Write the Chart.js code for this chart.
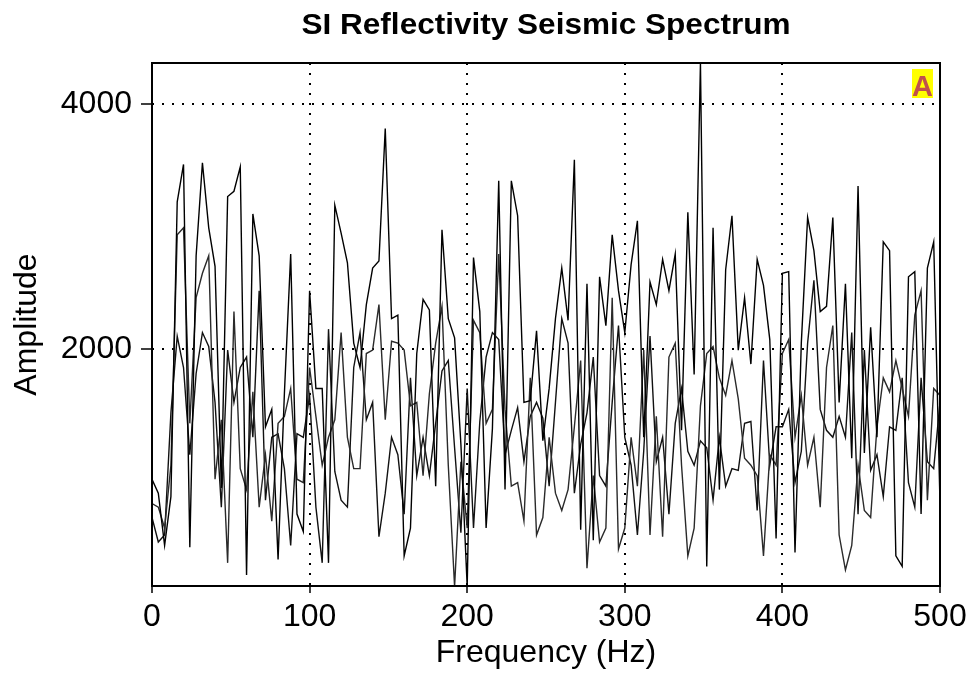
<!DOCTYPE html>
<html>
<head>
<meta charset="utf-8">
<title>SI Reflectivity Seismic Spectrum</title>
<script src="https://cdn.jsdelivr.net/npm/chart.js@4"></script>
<style>
  html, body { margin: 0; padding: 0; background: #fff; }
  #chart { display: block; }
</style>
</head>
<body>
<canvas id="chart" width="975" height="675"></canvas>
<script>
// sample frequencies (Hz)
const freqHz = [
  0, 4, 8, 12, 16, 20, 24, 28, 32, 36, 40, 44, 48, 52, 56, 60, 64, 68, 72, 76,
  80, 84, 88, 92, 96, 100, 104, 108, 112, 116, 120, 124, 128, 132, 136, 140, 144, 148, 152, 156,
  160, 164, 168, 172, 176, 180, 184, 188, 192, 196, 200, 204, 208, 212, 216, 220, 224, 228, 232, 236,
  240, 244, 248, 252, 256, 260, 264, 268, 272, 276, 280, 284, 288, 292, 296, 300, 304, 308, 312, 316,
  320, 324, 328, 332, 336, 340, 344, 348, 352, 356, 360, 364, 368, 372, 376, 380, 384, 388, 392, 396,
  400, 404, 408, 412, 416, 420, 424, 428, 432, 436, 440, 444, 448, 452, 456, 460, 464, 468, 472, 476,
  480, 484, 488, 492, 496, 500
];

// amplitude of each trace
const trace1 = [
  937, 823, 396, 795, 3202, 3507, 382, 2761, 3521, 2989, 2675, 866, 3245, 3288, 3487, 154, 3103, 2761, 1365, 1507,
  282, 1635, 2775, 652, 510, 2476, 1678, 1678, 254, 3174, 2946, 2704, 2048, 1849, 2362, 2661, 2718, 3800, 2248, 2276,
  311, 538, 1963, 2405, 2319, 880, 2974, 2248, 2091, 1222, 60, 2746, 2305, 538, 1350, 3373, 852, 3373, 3088, 1564,
  1578, 2148, 1251, 1678, 2248, 2661, 2234, 3544, 524, 2533, 438, 2590, 2191, 2932, 2476, 2134, 2689, 3046, 1279, 2547,
  2362, 2732, 2476, 2775, 1336, 3117, 1792, 4335, 225, 2989, 852, 2647, 3088, 1991, 2419, 1877, 2732, 2519, 2077, 453,
  2618, 2632, 339, 2048, 3074, 2803, 2305, 2348, 3074, 1564, 2533, 1108, 3330, 1151, 2177, 1279, 2875, 2803, 311, 225,
  2590, 2632, 652, 2661, 2875, 738
];
const trace2 = [
  738, 709, 538, 1051, 2932, 2989, 1393, 2419, 2618, 2761, 937, 1422, 254, 2305, 1023, 852, 1650, 709, 1137, 595,
  1393, 1450, 1678, 937, 909, 1849, 1450, 1051, 1279, 1422, 2134, 1279, 1023, 1023, 1963, 1991, 2362, 1422, 2063, 2048,
  1991, 1536, 1564, 966, 1635, 2048, 2348, 1051, 60, 1080, 538, 2234, 2134, 1393, 1507, 2775, 1507, 880, 909, 595,
  1764, 481, 624, 1279, 823, 681, 852, 1365, 1906, 211, 966, 424, 538, 2419, 367, 538, 1279, 880, 1991, 481,
  1450, 467, 1934, 2048, 1051, 311, 538, 1536, 1963, 2020, 1764, 1621, 1906, 1593, 1108, 1051, 966, 311, 1137, 1051,
  1963, 2077, 1279, 1621, 1051, 1279, 709, 1849, 2191, 481, 196, 396, 1051, 681, 624, 1365, 1764, 1650, 1906, 1678,
  1450, 2276, 2476, 766, 1678, 1621
];
const trace3 = [
  624, 424, 481, 1479, 2105, 1849, 1137, 1800, 2134, 2020, 1564, 709, 1991, 1564, 1849, 1934, 1279, 2476, 766, 1279,
  1308, 1023, 396, 1308, 1279, 1621, 709, 254, 2162, 1000, 766, 709, 1849, 2134, 1422, 1564, 467, 823, 1279, 1137,
  652, 1764, 966, 1279, 966, 1393, 1821, 1906, 1194, 500, 1678, 538, 1408, 1934, 2134, 2077, 1137, 1336, 1521, 1080,
  1450, 1564, 1436, 880, 1564, 2248, 2048, 823, 1222, 1479, 1934, 966, 880, 1564, 2191, 1279, 1051, 481, 1165, 2105,
  1080, 1279, 652, 1393, 1678, 1165, 1051, 1250, 1194, 766, 1279, 880, 1023, 1009, 1393, 1408, 681, 1906, 1051, 1365,
  1365, 1507, 909, 1165, 2048, 2561, 1507, 1336, 1279, 1450, 1279, 2134, 652, 1991, 1009, 1137, 795, 1365, 1336, 1764,
  909, 709, 1764, 1080, 1023, 1564
];

const xTicks = [0, 100, 200, 300, 400, 500];
const yTicks = [2000, 4000];

const chartTitle = "SI Reflectivity Seismic Spectrum";
const panelTag = "A";

function toPoints(values) {
  return values.map((v, i) => ({ x: freqHz[i], y: v }));
}

// title, plot frame and the little "A" tag
const decorations = {
  id: "decorations",
  afterDraw(chart) {
    const ctx = chart.ctx;
    const area = chart.chartArea;

    ctx.save();
    ctx.strokeStyle = "#000";
    ctx.lineWidth = 2;
    ctx.strokeRect(area.left, area.top, area.right - area.left, area.bottom - area.top);

    // title, stretched a bit to match the original width
    ctx.font = "bold 29px 'Liberation Sans', Arial, sans-serif";
    ctx.fillStyle = "#000";
    ctx.textAlign = "center";
    ctx.textBaseline = "alphabetic";
    const w = ctx.measureText(chartTitle).width;
    ctx.translate((area.left + area.right) / 2, 34);
    ctx.scale(489 / w, 1);
    ctx.fillText(chartTitle, 0, 0);
    ctx.restore();

    ctx.save();
    ctx.fillStyle = "#ffff00";
    ctx.fillRect(area.right - 28, area.top + 6, 21, 29);
    ctx.fillStyle = "#c0504d";
    ctx.font = "bold 29px 'Liberation Sans', Arial, sans-serif";
    ctx.textAlign = "center";
    ctx.textBaseline = "alphabetic";
    ctx.fillText(panelTag, area.right - 17.5, area.top + 33);
    ctx.restore();
  },
};

const tickFont = { family: "'Liberation Sans', Arial, sans-serif", size: 32 };

const ctx = document.getElementById("chart").getContext("2d");
new Chart(ctx, {
  type: "line",
  data: {
    datasets: [
      { data: toPoints(trace1), borderColor: "#000", borderWidth: 1.4 },
      { data: toPoints(trace2), borderColor: "#2a2a2a", borderWidth: 1.4 },
      { data: toPoints(trace3), borderColor: "#111", borderWidth: 1.4 },
    ],
  },
  options: {
    responsive: false,
    animation: false,
    layout: { padding: { top: 63, right: 35, left: 0, bottom: 0 } },
    elements: { point: { radius: 0 }, line: { tension: 0, fill: false } },
    plugins: { legend: { display: false }, tooltip: { enabled: false }, title: { display: false } },
    scales: {
      x: {
        type: "linear",
        min: 0,
        max: 500,
        afterFit: (scale) => { scale.height = 89; },
        afterBuildTicks: (scale) => { scale.ticks = xTicks.map((v) => ({ value: v })); },
        ticks: { font: tickFont, color: "#000", padding: 5, maxRotation: 0, callback: (v) => String(v) },
        grid: {
          color: (c) => (c.tick && (c.tick.value === 0 || c.tick.value === 500) ? "rgba(0,0,0,0)" : "#000"),
          lineWidth: 2,
          tickColor: "#000",
          tickWidth: 1.5,
          tickLength: 7,
        },
        border: { display: false, dash: [2, 8] },
        title: {
          display: true,
          text: "Frequency (Hz)",
          font: tickFont,
          color: "#000",
          padding: { top: 0, bottom: 3 },
        },
      },
      y: {
        type: "linear",
        min: 65,
        max: 4335,
        afterFit: (scale) => { scale.width = 152; },
        afterBuildTicks: (scale) => { scale.ticks = yTicks.map((v) => ({ value: v })); },
        ticks: { font: tickFont, color: "#000", padding: 9, callback: (v) => String(v) },
        grid: {
          color: "#000",
          lineWidth: 2,
          tickColor: "#000",
          tickWidth: 1.5,
          tickLength: 11,
        },
        border: { display: false, dash: [2, 8] },
        title: {
          display: true,
          text: "Amplitude",
          font: tickFont,
          color: "#000",
          padding: { top: 8, bottom: 0 },
        },
      },
    },
  },
  plugins: [decorations],
});
</script>
</body>
</html>
